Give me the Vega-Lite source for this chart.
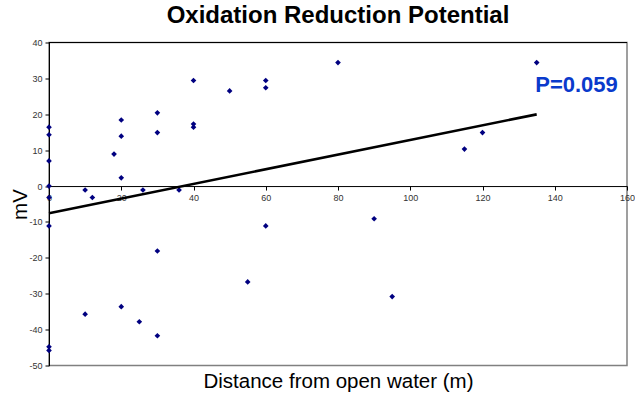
{
  "$schema": "https://vega.github.io/schema/vega-lite/v6.json",
  "autosize": "none",
  "padding": {"left": 49, "top": 42.5, "right": 8, "bottom": 30},
  "width": 578,
  "height": 323,
  "title": {
    "text": "Oxidation Reduction Potential",
    "font": "Liberation Sans",
    "fontSize": 24,
    "fontWeight": "bold",
    "color": "#000000",
    "anchor": "middle",
    "frame": "group",
    "offset": 11
  },
  "config": {
    "view": {"stroke": "#808080", "strokeWidth": 1.5},
    "font": "Liberation Sans",
    "axis": {
      "labelFont": "Liberation Sans",
      "labelFontSize": 9,
      "labelColor": "#333333",
      "domainColor": "#000000",
      "tickColor": "#000000",
      "tickSize": 4,
      "grid": false,
      "labelFlush": false,
      "labelOverlap": false,
      "titleFont": "Liberation Sans",
      "titleFontSize": 20.5,
      "titleFontWeight": "normal",
      "titleColor": "#000000"
    }
  },
  "data": {
    "values": [
      {"x": 0, "y": 16.4}, {"x": 0, "y": 14.3}, {"x": 0, "y": 7.0}, {"x": 0, "y": 0},
      {"x": 0, "y": -3.2}, {"x": 0, "y": -11.1}, {"x": 0, "y": -44.8}, {"x": 0, "y": -45.8},
      {"x": 10, "y": -1.1}, {"x": 10, "y": -35.7}, {"x": 12, "y": -3.2}, {"x": 18, "y": 8.9},
      {"x": 20, "y": 18.4}, {"x": 20, "y": 13.9}, {"x": 20, "y": 2.3}, {"x": 20, "y": -33.6},
      {"x": 25, "y": -37.8}, {"x": 26, "y": -1.1},
      {"x": 30, "y": 20.4}, {"x": 30, "y": 14.9}, {"x": 30, "y": -18.1}, {"x": 30, "y": -41.7},
      {"x": 36, "y": -1.1},
      {"x": 40, "y": 29.4}, {"x": 40, "y": 17.3}, {"x": 40, "y": 16.4},
      {"x": 50, "y": 26.5}, {"x": 55, "y": -26.7},
      {"x": 60, "y": 29.4}, {"x": 60, "y": 27.4}, {"x": 60, "y": -11.1},
      {"x": 80, "y": 34.4}, {"x": 90, "y": -9.1}, {"x": 95, "y": -30.8},
      {"x": 115, "y": 10.3}, {"x": 120, "y": 14.9}, {"x": 135, "y": 34.4}
    ]
  },
  "layer": [
    {
      "mark": {"type": "point", "shape": "diamond", "filled": true, "color": "#000080", "opacity": 1, "size": 32},
      "encoding": {
        "x": {
          "field": "x",
          "type": "quantitative",
          "scale": {"domain": [0, 160], "nice": false, "zero": false},
          "axis": {
            "tickCount": 8,
            "labelOverlap": false,
            "offset": -179.44,
            "labelPadding": 3,
            "title": "Distance from open water (m)",
            "titleX": 289,
            "titleY": 201.5,
            "titleAnchor": null,
            "titleAlign": "center",
            "titleBaseline": "alphabetic"
          }
        },
        "y": {
          "field": "y",
          "type": "quantitative",
          "scale": {"domain": [-50, 40], "nice": false, "zero": false},
          "axis": {
            "tickCount": 9,
            "labelExpr": "'' + datum.value",
            "labelOverlap": false,
            "labelPadding": 3,
            "title": "mV",
            "titleAngle": -90,
            "titleX": -23,
            "titleY": 161.5,
            "titleAlign": "center",
            "titleBaseline": "alphabetic"
          }
        }
      }
    },
    {
      "transform": [{"regression": "y", "on": "x", "extent": [0, 135]}],
      "mark": {"type": "line", "color": "#000000", "strokeWidth": 2.6},
      "encoding": {
        "x": {"field": "x", "type": "quantitative"},
        "y": {"field": "y", "type": "quantitative"}
      }
    },
    {
      "data": {"values": [{}]},
      "mark": {"type": "rule", "color": "#000000", "strokeWidth": 1},
      "encoding": {
        "y": {"datum": 40, "type": "quantitative"}
      }
    },
    {
      "data": {"values": [{}]},
      "mark": {
        "type": "text",
        "text": "P=0.059",
        "font": "Liberation Sans",
        "fontSize": 22,
        "fontWeight": "bold",
        "color": "#0A3ACC",
        "align": "left",
        "baseline": "alphabetic"
      },
      "encoding": {
        "x": {"datum": 134.6, "type": "quantitative"},
        "y": {"datum": 26.1, "type": "quantitative"}
      }
    }
  ]
}
